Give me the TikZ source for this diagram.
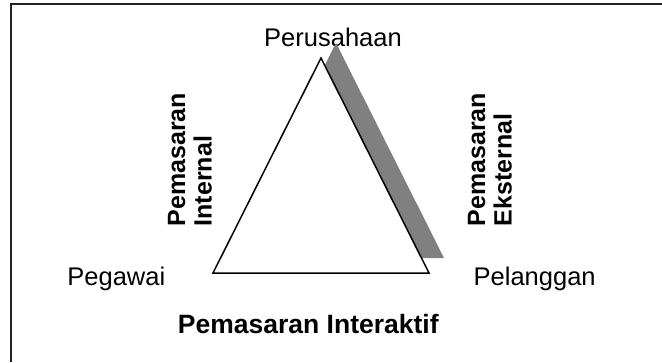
\documentclass[tikz,border=0pt]{standalone}
\usepackage{fontspec}
\setmainfont{Liberation Sans}
\begin{document}
\begin{tikzpicture}[x=1pt,y=-1pt,
  lbl/.style={inner sep=0pt, font=\fontsize{25.5}{30}\selectfont},
  blbl/.style={inner sep=0pt, font=\fontsize{26.5}{30}\selectfont\bfseries},
  vlbl/.style={inner sep=0pt, rotate=90, anchor=base west, font=\fontsize{25}{30}\selectfont\bfseries},
  tri/.style={draw=black, line width=1.5pt, fill=white, line join=miter},
  shadow/.style={fill=black!50, draw=none}]
\useasboundingbox (0,0) rectangle (662,362);
% frame (top and left edges)
\draw[line width=2pt, draw=black!87] (662,4.3) -- (11,4.3) -- (11,362);
% top label
\node[lbl, anchor=base] (perusahaan) at (333,46.7) {Perusahaan};
% triangle corners
\coordinate (A) at (321,58);
\coordinate (B) at (213,273);
\coordinate (C) at (429,273);
% shadow
\fill[shadow] ([shift={(15,-15)}]A) -- ([shift={(15,-15)}]B) -- ([shift={(15,-15)}]C) -- cycle;
% triangle
\draw[tri] (A) -- (B) -- (C) -- cycle;
% corner labels
\node[lbl, anchor=base west] (pegawai) at (67.2,285) {Pegawai};
\node[lbl, anchor=base west] (pelanggan) at (473.5,285) {Pelanggan};
% side labels
\node[vlbl] (int1) at (185,226.5) {Pemasaran};
\node[vlbl] (int2) at (211.7,226.5) {Internal};
\node[vlbl] (eks1) at (485,226.5) {Pemasaran};
\node[vlbl] (eks2) at (511.7,226.5) {Eksternal};
% bottom label
\node[blbl, anchor=base] (interaktif) at (308.3,333.3) {Pemasaran Interaktif};
\end{tikzpicture}
\end{document}
